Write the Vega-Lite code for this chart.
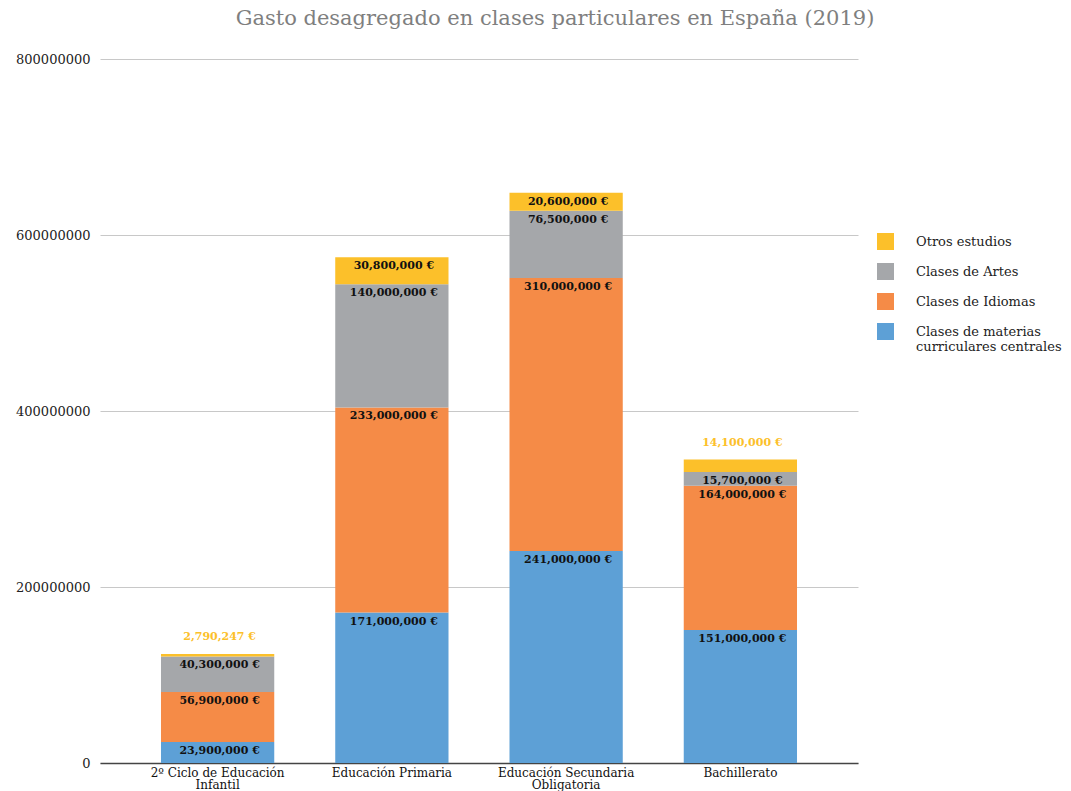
{
  "$schema": "https://vega.github.io/schema/vega-lite/v6.json",
  "autosize": "none",
  "width": 758,
  "height": 704,
  "padding": {"left": 100, "top": 59, "right": 213, "bottom": 28},
  "background": "white",
  "title": {
    "text": "Gasto desagregado en clases particulares en España (2019)",
    "font": "DejaVu Serif",
    "fontSize": 21,
    "fontWeight": "normal",
    "color": "#7f7f7f",
    "anchor": "middle",
    "frame": "group",
    "dx": 76,
    "offset": 24
  },
  "config": {
    "view": {"stroke": null},
    "font": "DejaVu Serif"
  },
  "data": {
    "values": [
      {"nivel": "2º Ciclo de Educación Infantil", "tipo": "Clases de materias curriculares centrales", "orden": 1, "valor": 23900000},
      {"nivel": "2º Ciclo de Educación Infantil", "tipo": "Clases de Idiomas", "orden": 2, "valor": 56900000},
      {"nivel": "2º Ciclo de Educación Infantil", "tipo": "Clases de Artes", "orden": 3, "valor": 40300000},
      {"nivel": "2º Ciclo de Educación Infantil", "tipo": "Otros estudios", "orden": 4, "valor": 2790247},
      {"nivel": "Educación Primaria", "tipo": "Clases de materias curriculares centrales", "orden": 1, "valor": 171000000},
      {"nivel": "Educación Primaria", "tipo": "Clases de Idiomas", "orden": 2, "valor": 233000000},
      {"nivel": "Educación Primaria", "tipo": "Clases de Artes", "orden": 3, "valor": 140000000},
      {"nivel": "Educación Primaria", "tipo": "Otros estudios", "orden": 4, "valor": 30800000},
      {"nivel": "Educación Secundaria Obligatoria", "tipo": "Clases de materias curriculares centrales", "orden": 1, "valor": 241000000},
      {"nivel": "Educación Secundaria Obligatoria", "tipo": "Clases de Idiomas", "orden": 2, "valor": 310000000},
      {"nivel": "Educación Secundaria Obligatoria", "tipo": "Clases de Artes", "orden": 3, "valor": 76500000},
      {"nivel": "Educación Secundaria Obligatoria", "tipo": "Otros estudios", "orden": 4, "valor": 20600000},
      {"nivel": "Bachillerato", "tipo": "Clases de materias curriculares centrales", "orden": 1, "valor": 151000000},
      {"nivel": "Bachillerato", "tipo": "Clases de Idiomas", "orden": 2, "valor": 164000000},
      {"nivel": "Bachillerato", "tipo": "Clases de Artes", "orden": 3, "valor": 15700000},
      {"nivel": "Bachillerato", "tipo": "Otros estudios", "orden": 4, "valor": 14100000}
    ]
  },
  "transform": [
    {"stack": "valor", "groupby": ["nivel"], "sort": [{"field": "orden", "order": "ascending"}], "as": ["v0", "v1"]},
    {"calculate": "format(datum.valor, ',d') + ' €'", "as": "etiqueta"}
  ],
  "encoding": {
    "x": {
      "field": "nivel",
      "type": "nominal",
      "sort": ["2º Ciclo de Educación Infantil", "Educación Primaria", "Educación Secundaria Obligatoria", "Bachillerato"],
      "scale": {"paddingInner": 0.35, "paddingOuter": 0.35},
      "axis": {
        "title": null,
        "labelAngle": 0,
        "labelFont": "DejaVu Serif",
        "labelFontSize": 12,
        "labelColor": "#111",
        "labelPadding": 4,
        "labelLineHeight": 12.5,
        "labelBaseline": "top",
        "ticks": false,
        "domainColor": "#444",
        "domainWidth": 1.5,
        "labelExpr": "datum.label == '2º Ciclo de Educación Infantil' ? ['2º Ciclo de Educación', 'Infantil'] : datum.label == 'Educación Secundaria Obligatoria' ? ['Educación Secundaria', 'Obligatoria'] : datum.label"
      }
    }
  },
  "layer": [
    {
      "mark": {"type": "bar"},
      "encoding": {
        "y": {
          "field": "v0",
          "type": "quantitative",
          "scale": {"domain": [0, 800000000]},
          "axis": {
            "title": null,
            "values": [0, 200000000, 400000000, 600000000, 800000000],
            "format": "d",
            "labelFont": "DejaVu Serif",
            "labelFontSize": 13,
            "labelColor": "#222",
            "labelPadding": 10,
            "ticks": false,
            "domain": false,
            "gridColor": "#c8c8c8",
            "gridWidth": 1
          }
        },
        "y2": {"field": "v1"},
        "color": {
          "field": "tipo",
          "type": "nominal",
          "scale": {
            "domain": ["Otros estudios", "Clases de Artes", "Clases de Idiomas", "Clases de materias curriculares centrales"],
            "range": ["#FCC02A", "#A5A7AA", "#F58B47", "#5DA0D6"]
          },
          "legend": {
            "title": null,
            "orient": "none",
            "legendX": 777,
            "legendY": 174,
            "symbolType": "square",
            "symbolSize": 289,
            "symbolStrokeWidth": 0,
            "symbolOpacity": 1,
            "labelFont": "DejaVu Serif",
            "labelFontSize": 13,
            "labelColor": "#222",
            "labelOffset": 22,
            "labelLimit": 300,
            "rowPadding": 13,
            "labelExpr": "datum.label == 'Clases de materias curriculares centrales' ? ['Clases de materias', 'curriculares centrales'] : datum.label"
          }
        }
      }
    },
    {
      "transform": [{"filter": "datum.valor >= 15000000"}],
      "mark": {"type": "text", "baseline": "middle", "align": "center", "dy": 9, "dx": 2, "fontWeight": "bold", "fontSize": 11, "font": "DejaVu Serif", "color": "#111"},
      "encoding": {
        "y": {"field": "v1", "type": "quantitative"},
        "text": {"field": "etiqueta"}
      }
    },
    {
      "transform": [{"filter": "datum.valor < 15000000"}],
      "mark": {"type": "text", "baseline": "middle", "align": "center", "dy": -17, "dx": 2, "fontWeight": "bold", "fontSize": 11, "font": "DejaVu Serif", "color": "#FCC02A"},
      "encoding": {
        "y": {"field": "v1", "type": "quantitative"},
        "text": {"field": "etiqueta"}
      }
    }
  ]
}
